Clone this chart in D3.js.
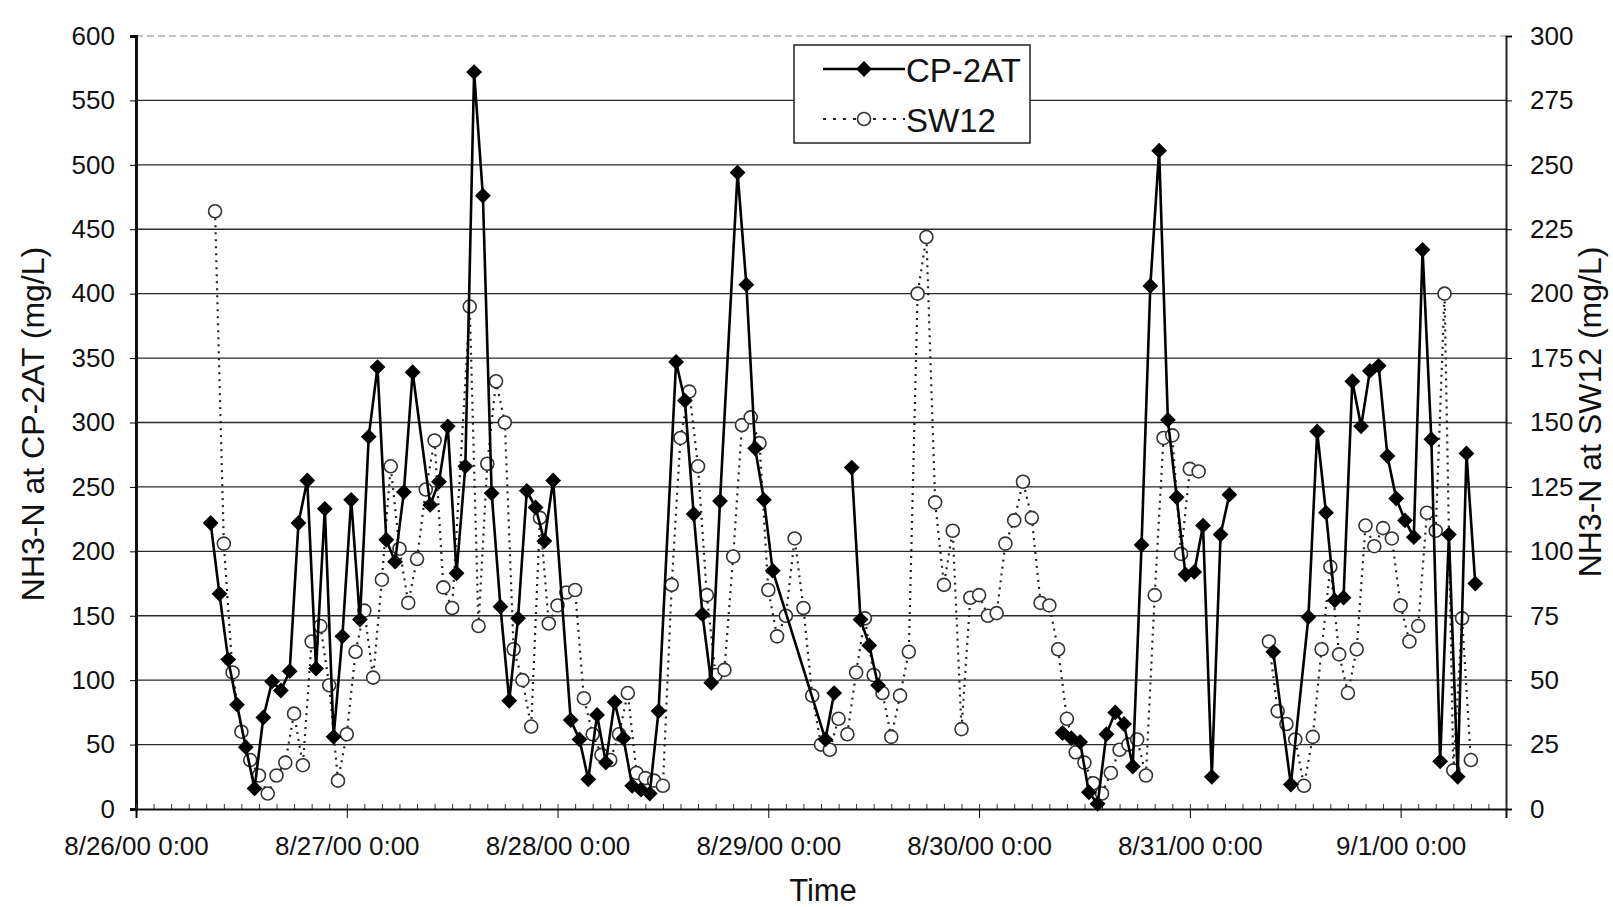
<!DOCTYPE html>
<html>
<head>
<meta charset="utf-8">
<script src="https://cdn.jsdelivr.net/npm/d3@7/dist/d3.min.js"></script>
<style>
body { margin: 0; background: #fff; }
text { font-family: "Liberation Sans", Arial, sans-serif; fill: #111; }
</style>
</head>
<body>
<svg id="chart"></svg>
<script>
// hours after 8/26/00 0:00 ; null value = break in the line
const cpHours = [
  8.5, 9.5, 10.5, 11.5, 12.5, 13.5, 14.5, 15.5, 16.5, 17.5, 18.5, 19.5, 20.5, 21.5, 22.5, 23.5,
  24.5, 25.5, 26.5, 27.5, 28.5, 29.5, 30.5, 31.5,
  33.5, 34.5, 35.5, 36.5, 37.5, 38.5, 39.5, 40.5, 41.5, 42.5, 43.5, 44.5, 45.5, 46.5, 47.5,
  49.5, 50.5, 51.5, 52.5, 53.5, 54.5, 55.5, 56.5, 57.5, 58.5, 59.5,
  61.5, 62.5, 63.5, 64.5, 65.5, 66.5, 68.5, 69.5, 70.5, 71.5, 72.5, 78.5, 79.5,
  80.5,
  81.5, 82.5, 83.5, 84.5,
  90,
  105.5, 106.5, 107.5, 108.5, 109.5, 110.5, 111.5, 112.5, 113.5, 114.5, 115.5, 116.5, 117.5,
  118.5, 119.5, 120.5, 121.5, 122.5, 123.5, 124.5,
  127,
  129.5, 131.5, 133.5, 134.5, 135.5, 136.5, 137.5, 138.5, 139.5, 140.5, 141.5, 142.5, 143.5,
  144.5, 145.5, 146.5, 147.5, 148.5, 149.5, 150.5, 151.5, 152.5
];
const cpValues = [
  222, 167, 116, 81, 48, 16, 71, 99, 92, 107, 222, 255, 109, 233, 56, 134,
  240, 147, 289, 343, 209, 192, 246, 339,
  236, 254, 297, 183, 266, 572, 476, 245, 157, 84, 148, 247, 234, 208, 255,
  69, 54, 23, 73, 36, 83, 55, 18, 15, 12, 76,
  347, 317, 229, 151, 98, 239, 494, 407, 280, 240, 185, 54, 90,
  null,
  265, 147, 127, 96,
  null,
  59, 55, 52, 13, 4, 58, 75, 66, 33, 205, 406, 511, 302,
  242, 182, 184, 220, 25, 213, 244,
  null,
  122, 19, 149, 293, 230, 162, 164, 332, 297, 340, 344, 274, 241,
  224, 211, 434, 287, 37, 213, 25, 276, 175
];

const swHours = [
  9, 10, 11, 12, 13, 14, 15, 16, 17, 18, 19, 20, 21, 22, 23, 24, 25, 26, 27, 28, 29, 30, 31, 32, 33, 34, 35, 36,
  38, 39, 40, 41, 42, 43, 44, 45, 46, 47, 48, 49, 50, 51, 52, 53, 54, 55, 56, 57, 58, 59, 60,
  61, 62, 63, 64, 65, 66, 67, 68, 69, 70, 71, 72, 73, 74, 75, 76, 77, 78, 79, 80,
  81, 82, 83, 84, 85, 86, 87, 88, 89, 90, 91, 92, 93, 94, 95, 96, 97, 98, 99, 100,
  101, 102, 103, 104, 105, 106, 107, 108, 109, 110, 111, 112, 113, 114, 115, 116, 117, 118, 119, 120, 121,
  125,
  129, 130, 131, 132, 133, 134, 135, 136, 137, 138, 139, 140, 141, 142, 143, 144, 145, 146, 147, 148,
  149, 150, 151, 152
];
const swValues = [
  232, 103, 53, 30, 19, 13, 6, 13, 18, 37, 17, 65, 71, 48, 11, 29, 61, 77, 51, 89, 133, 101, 80, 97, 124, 143, 86, 78,
  195, 71, 134, 166, 150, 62, 50, 32, 113, 72, 79, 84, 85, 43, 29, 21, 19, 29, 45, 14, 12, 11, 9,
  87, 144, 162, 133, 83, 52, 54, 98, 149, 152, 142, 85, 67, 75, 105, 78, 44, 25, 23, 35,
  29, 53, 74, 52, 45, 28, 44, 61, 200, 222, 119, 87, 108, 31, 82, 83, 75, 76, 103, 112,
  127, 113, 80, 79, 62, 35, 22, 18, 10, 6, 14, 23, 25, 27, 13, 83, 144, 145, 99, 132, 131,
  null,
  65, 38, 33, 27, 9, 28, 62, 94, 60, 45, 62, 110, 102, 109, 105, 79, 65, 71, 115, 108,
  200, 15, 74, 19
];

const cpTicks = [0, 50, 100, 150, 200, 250, 300, 350, 400, 450, 500, 550, 600];
const swTicks = [0, 25, 50, 75, 100, 125, 150, 175, 200, 225, 250, 275, 300];
const seriesNames = ["CP-2AT", "SW12"];

const W = 1613, H = 907;
const m = { left: 136, right: 1506, top: 36, bottom: 809 };

const t0 = new Date(2000, 7, 26, 0, 0);
const t1 = new Date(2000, 8, 1, 12, 0);
const toTime = h => new Date(t0.getTime() + h * 3600 * 1000);

const cpData = cpHours.map((h, i) => ({ t: toTime(h), v: cpValues[i] }));
const swData = swHours.map((h, i) => ({ t: toTime(h), v: swValues[i] }));

const svg = d3.select("#chart").attr("width", W).attr("height", H);

const x = d3.scaleTime().domain([t0, t1]).range([m.left, m.right]);
const yL = d3.scaleLinear().domain([0, 600]).range([m.bottom, m.top]);
const yR = d3.scaleLinear().domain([0, 300]).range([m.bottom, m.top]);

// gridlines
svg.append("g")
  .selectAll("line")
  .data(cpTicks.filter(d => d > 0))
  .enter()
  .append("line")
  .attr("x1", m.left).attr("x2", m.right)
  .attr("y1", d => yL(d)).attr("y2", d => yL(d))
  .attr("stroke", d => d == 600 ? "#888" : "#2a2a2a")
  .attr("stroke-width", d => d == 600 ? 1 : 1.3)
  .attr("stroke-dasharray", d => d == 600 ? "7,4" : null);

// left axis
let gL = svg.append("g")
  .attr("transform", `translate(${m.left},0)`)
  .call(d3.axisLeft(yL).tickValues(cpTicks).tickSize(6).tickPadding(15));
gL.select(".domain").attr("stroke", "#111").attr("stroke-width", 3);
gL.selectAll("text").style("font-size", "26px").attr("fill", "#111");

// right axis
let gR = svg.append("g")
  .attr("transform", `translate(${m.right},0)`)
  .call(d3.axisRight(yR).tickValues(swTicks).tickSize(6).tickPadding(18));
gR.select(".domain").attr("stroke", "#222").attr("stroke-width", 2);
gR.selectAll("text").style("font-size", "26px").attr("fill", "#222");

// x axis: minor ticks every 2 hours, major per day
svg.append("g")
  .attr("transform", `translate(0,${m.bottom})`)
  .call(d3.axisBottom(x).ticks(d3.timeHour.every(2)).tickSize(-5).tickFormat(""))
  .call(g => g.select(".domain").remove())
  .selectAll("line").attr("stroke", "#333");

let gX = svg.append("g")
  .attr("transform", `translate(0,${m.bottom})`)
  .call(d3.axisBottom(x)
    .ticks(d3.timeDay.every(1))
    .tickSize(9)
    .tickPadding(19)
    .tickFormat(d3.timeFormat("%-m/%-d/%y %-H:%M")));
gX.select(".domain").attr("stroke", "#111").attr("stroke-width", 2);
gX.selectAll("text").style("font-size", "26px").attr("fill", "#111");

// axis titles
svg.append("text")
  .attr("transform", "translate(36,424) rotate(-90)")
  .attr("text-anchor", "middle")
  .attr("dominant-baseline", "middle")
  .style("font-size", "32px")
  .text("NH3-N at CP-2AT (mg/L)");

svg.append("text")
  .attr("transform", "translate(1593,412) rotate(-90)")
  .attr("text-anchor", "middle")
  .attr("dominant-baseline", "middle")
  .style("font-size", "32px")
  .text("NH3-N at SW12 (mg/L)");

svg.append("text")
  .attr("x", 823).attr("y", 901)
  .attr("text-anchor", "middle")
  .style("font-size", "31px")
  .text("Time");

// SW12 series (right axis)
const swLine = d3.line()
  .defined(d => d.v != null)
  .x(d => x(d.t))
  .y(d => yR(d.v));

svg.append("path")
  .datum(swData)
  .attr("d", swLine)
  .attr("fill", "none")
  .attr("stroke", "#222")
  .attr("stroke-width", 2.2)
  .attr("stroke-dasharray", "2,5");

svg.append("g")
  .selectAll("circle")
  .data(swData.filter(d => d.v != null))
  .enter()
  .append("circle")
  .attr("cx", d => x(d.t))
  .attr("cy", d => yR(d.v))
  .attr("r", 6.5)
  .attr("fill", "#fff")
  .attr("stroke", "#333")
  .attr("stroke-width", 1.6);

// CP-2AT series (left axis)
const cpLine = d3.line()
  .defined(d => d.v != null)
  .x(d => x(d.t))
  .y(d => yL(d.v));

svg.append("path")
  .datum(cpData)
  .attr("d", cpLine)
  .attr("fill", "none")
  .attr("stroke", "#000")
  .attr("stroke-width", 2.6);

const diamond = d3.symbol().type(d3.symbolSquare).size(125);

svg.append("g")
  .selectAll("path")
  .data(cpData.filter(d => d.v != null))
  .enter()
  .append("path")
  .attr("d", diamond)
  .attr("transform", d => `translate(${x(d.t)},${yL(d.v)}) rotate(45)`)
  .attr("fill", "#000");

// legend
let lg = svg.append("g");
lg.append("rect")
  .attr("x", 794).attr("y", 45)
  .attr("width", 236).attr("height", 98)
  .attr("fill", "#fff")
  .attr("stroke", "#222")
  .attr("stroke-width", 1.5);

lg.append("line")
  .attr("x1", 823).attr("x2", 905).attr("y1", 69).attr("y2", 69)
  .attr("stroke", "#000").attr("stroke-width", 2.6);
lg.append("path")
  .attr("d", diamond)
  .attr("transform", "translate(864,69) rotate(45)")
  .attr("fill", "#000");
lg.append("text")
  .attr("x", 906).attr("y", 70)
  .attr("dominant-baseline", "central")
  .style("font-size", "33px")
  .text(seriesNames[0]);

lg.append("line")
  .attr("x1", 823).attr("x2", 905).attr("y1", 119).attr("y2", 119)
  .attr("stroke", "#222").attr("stroke-width", 2.2)
  .attr("stroke-dasharray", "3,7");
lg.append("circle")
  .attr("cx", 864).attr("cy", 119).attr("r", 6.5)
  .attr("fill", "#fff").attr("stroke", "#333").attr("stroke-width", 1.6);
lg.append("text")
  .attr("x", 906).attr("y", 120)
  .attr("dominant-baseline", "central")
  .style("font-size", "33px")
  .text(seriesNames[1]);
</script>
</body>
</html>
